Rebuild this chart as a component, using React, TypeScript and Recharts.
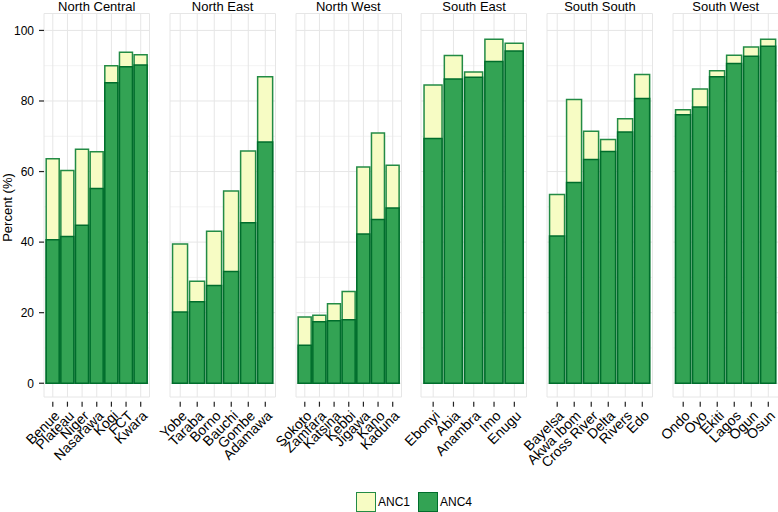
import React from 'react';
import { BarChart, Bar, XAxis, YAxis, CartesianGrid } from 'recharts';

// States grouped by geopolitical zone, with ANC1 / ANC4 coverage (%)
const regions = ['North Central', 'North East', 'North West', 'South East', 'South South', 'South West'];

const northCentralStates = ['Benue', 'Plateau', 'Niger', 'Nasarawa', 'Kogi', 'FCT', 'Kwara'];
const northCentralAnc1 = [63.6, 60.3, 66.3, 65.6, 90.0, 93.8, 93.1];
const northCentralAnc4 = [40.7, 41.6, 44.8, 55.2, 85.2, 89.7, 90.2];

const northEastStates = ['Yobe', 'Taraba', 'Borno', 'Bauchi', 'Gombe', 'Adamawa'];
const northEastAnc1 = [39.5, 28.9, 43.1, 54.5, 65.8, 86.9];
const northEastAnc4 = [20.2, 23.1, 27.7, 31.7, 45.5, 68.4];

const northWestStates = ['Sokoto', 'Zamfara', 'Katsina', 'Kebbi', 'Jigawa', 'Kano', 'Kaduna'];
const northWestAnc1 = [18.8, 19.3, 22.5, 26.0, 61.3, 70.9, 61.8];
const northWestAnc4 = [10.8, 17.4, 17.7, 18.0, 42.3, 46.4, 49.7];

const southEastStates = ['Ebonyi', 'Abia', 'Anambra', 'Imo', 'Enugu'];
const southEastAnc1 = [84.5, 92.9, 88.2, 97.5, 96.4];
const southEastAnc4 = [69.4, 86.2, 86.7, 91.2, 94.2];

const southSouthStates = ['Bayelsa', 'Akwa Ibom', 'Cross River', 'Delta', 'Rivers', 'Edo'];
const southSouthAnc1 = [53.5, 80.4, 71.4, 69.1, 75.0, 87.5];
const southSouthAnc4 = [41.7, 56.9, 63.4, 65.7, 71.2, 80.7];

const southWestStates = ['Ondo', 'Oyo', 'Ekiti', 'Lagos', 'Ogun', 'Osun'];
const southWestAnc1 = [77.5, 83.4, 88.6, 93.0, 95.3, 97.5];
const southWestAnc4 = [76.1, 78.3, 86.9, 90.6, 92.7, 95.5];

const yTicks = [0, 20, 40, 60, 80, 100];
const yMinor = [10, 30, 50, 70, 90];

const panels = [
  { states: northCentralStates, anc1: northCentralAnc1, anc4: northCentralAnc4 },
  { states: northEastStates, anc1: northEastAnc1, anc4: northEastAnc4 },
  { states: northWestStates, anc1: northWestAnc1, anc4: northWestAnc4 },
  { states: southEastStates, anc1: southEastAnc1, anc4: southEastAnc4 },
  { states: southSouthStates, anc1: southSouthAnc1, anc4: southSouthAnc4 },
  { states: southWestStates, anc1: southWestAnc1, anc4: southWestAnc4 },
];

const FONT = '"Liberation Sans", Arial, Helvetica, sans-serif';
const ANC1_FILL = '#f7fcc4';
const ANC1_STROKE = '#238b45';
const ANC4_FILL = '#33a354';
const ANC4_STROKE = '#006d2c';

const PLOT_LEFT = 44;
const PLOT_W = 105.5;
const PITCH = 125.8;
const AXIS_W = 44;
const SIDE = 50;

const StateTick = (props: any) => {
  const { x, y, payload } = props;
  return (
    <g transform={`translate(${x},${y})`}>
      <line x1={0} x2={0} y1={4.7} y2={9.7} stroke="#222" strokeWidth={1.2} />
      <text
        transform="translate(0.5,12.5) rotate(-45)"
        textAnchor="end"
        dy="0.72em"
        fontSize={14}
        fontFamily={FONT}
        fill="#000"
      >
        {payload.value}
      </text>
    </g>
  );
};

const Panel = ({ index }: { index: number }) => {
  const p = panels[index];
  const data = p.states.map((s, i) => ({ state: s, anc1: p.anc1[i], anc4: p.anc4[i] }));
  const band = PLOT_W / (p.states.length + 0.2);
  const pad = band * 0.1;
  const first = index === 0;
  const left = first ? 0 : PLOT_LEFT + index * PITCH - SIDE;
  const width = (first ? AXIS_W : SIDE) + PLOT_W + 10;

  return (
    <div style={{ position: 'absolute', left, top: 0 }}>
      <BarChart
        width={width}
        height={512}
        data={data}
        margin={{ top: 13.5, right: 10, bottom: 0, left: first ? 0 : SIDE }}
        barCategoryGap="5%"
      >
        <CartesianGrid xAxisId="a" horizontalValues={yMinor} vertical={false} stroke="#f3f3f3" />
        <CartesianGrid xAxisId="a" stroke="#e6e6e6" />
        <XAxis
          xAxisId="a"
          dataKey="state"
          interval={0}
          padding={{ left: pad, right: pad }}
          height={115}
          tickSize={0}
          tickMargin={0}
          axisLine={false}
          tickLine={false}
          tick={<StateTick />}
        />
        <XAxis xAxisId="b" dataKey="state" hide padding={{ left: pad, right: pad }} />
        <YAxis
          hide={!first}
          width={AXIS_W}
          domain={[-3.9, 104.8]}
          ticks={yTicks}
          axisLine={false}
          tickSize={5}
          tickMargin={5}
          tickLine={{ stroke: '#222', strokeWidth: 1.2 }}
          tick={{ fontSize: 12, fill: '#000', fontFamily: FONT }}
        />
        <Bar xAxisId="a" dataKey="anc1" fill={ANC1_FILL} stroke={ANC1_STROKE} strokeWidth={1.5} isAnimationActive={false} />
        <Bar xAxisId="b" dataKey="anc4" fill={ANC4_FILL} stroke={ANC4_STROKE} strokeWidth={1.5} isAnimationActive={false} />
      </BarChart>
    </div>
  );
};

const LegendItem = ({ label, fill, stroke }: { label: string; fill: string; stroke: string }) => (
  <div style={{ display: 'flex', alignItems: 'center', marginRight: 8 }}>
    <div style={{ width: 18, height: 18, background: fill, border: `1.5px solid ${stroke}`, marginRight: 2 }} />
    <span style={{ fontSize: 12 }}>{label}</span>
  </div>
);

export default function App() {
  return (
    <div
      style={{
        position: 'absolute',
        left: 0,
        top: 0,
        width: 778,
        height: 512,
        background: '#fff',
        fontFamily: FONT,
        overflow: 'hidden',
      }}
    >
      {regions.map((r, i) => (
        <div
          key={r}
          style={{
            position: 'absolute',
            left: PLOT_LEFT + i * PITCH,
            width: PLOT_W,
            top: -1,
            textAlign: 'center',
            fontSize: 13,
            lineHeight: '15px',
            color: '#000',
          }}
        >
          {r}
        </div>
      ))}
      <div
        style={{
          position: 'absolute',
          left: -43.5,
          top: 200.5,
          width: 100,
          height: 13,
          lineHeight: '13px',
          fontSize: 13,
          textAlign: 'center',
          transform: 'rotate(-90deg)',
          color: '#000',
        }}
      >
        Percent (%)
      </div>
      {panels.map((_, i) => (
        <Panel key={i} index={i} />
      ))}
      <div style={{ position: 'absolute', left: 356, top: 492, display: 'flex' }}>
        <LegendItem label="ANC1" fill={ANC1_FILL} stroke={ANC1_STROKE} />
        <LegendItem label="ANC4" fill={ANC4_FILL} stroke={ANC4_STROKE} />
      </div>
    </div>
  );
}
